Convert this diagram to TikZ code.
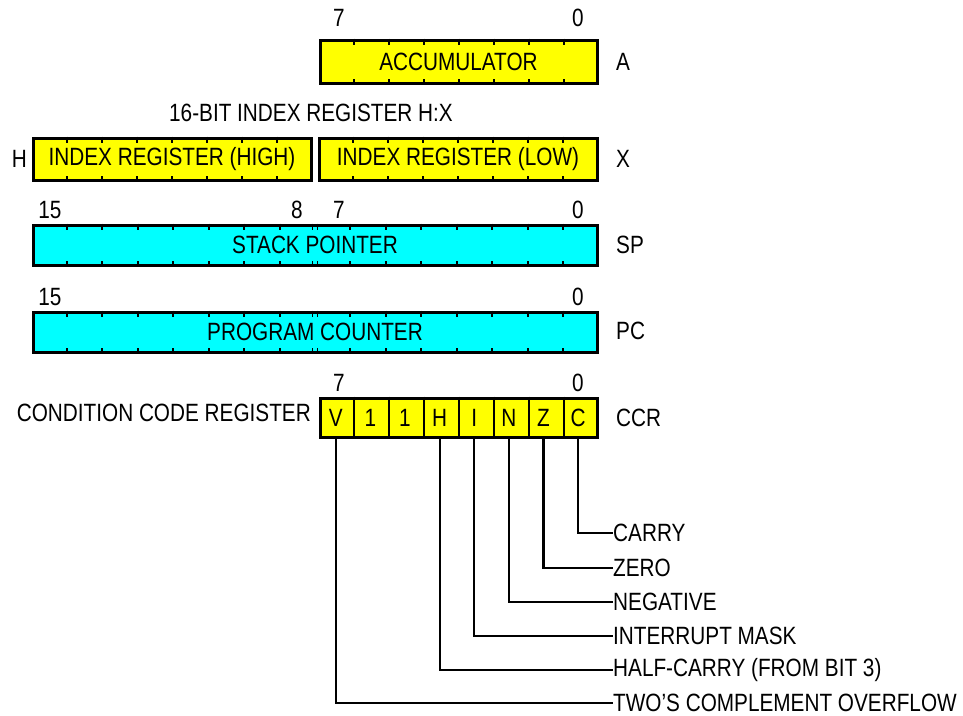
\documentclass[tikz,border=0pt]{standalone}
\usepackage{fontspec}
\setmainfont{Liberation Sans}[FakeStretch=0.83]
\usetikzlibrary{positioning,calc}

\definecolor{regyellow}{RGB}{255,255,0}
\definecolor{regcyan}{RGB}{0,255,255}

\tikzset{
  reg/.style={draw, line width=3pt, inner sep=0pt, font=\fontsize{25}{25}\selectfont},
  yreg/.style={reg, fill=regyellow},
  creg/.style={reg, fill=regcyan},
  tick/.style={line width=2pt},
  lbl/.style={font=\fontsize{25}{25}\selectfont, inner sep=0pt},
  lead/.style={line width=2.2pt}
}

\begin{document}
\begin{tikzpicture}[x=1pt,y=-1pt]
  \useasboundingbox (0,0) rectangle (963,715);
  % registers
  \node[yreg, minimum width=277pt, minimum height=43pt] (acc) at (458.5,61.5) {ACCUMULATOR};
  \node[yreg, minimum width=278pt, minimum height=42pt] (ixh) at (172,159) {INDEX REGISTER (HIGH)};
  \node[yreg, minimum width=278pt, minimum height=42pt] (ixl) at (458,159) {INDEX REGISTER (LOW)};
  \node[creg, minimum width=564pt, minimum height=40pt] (sp) at (315,245) {STACK POINTER};
  \node[creg, minimum width=564pt, minimum height=40pt] (pc) at (315,332) {PROGRAM COUNTER};
  \node[yreg, minimum width=277pt, minimum height=39pt] (ccr) at (458.5,417.5) {};

  % bit ticks
  \foreach \r in {acc,ixh,ixl}
    \foreach \i in {1,...,7} {
      \draw[tick] ($(\r.north west)!\i/8!(\r.north east)$) -- ++(0,6);
      \draw[tick] ($(\r.south west)!\i/8!(\r.south east)$) -- ++(0,-6);
    }
  \foreach \r in {sp,pc} {
    \foreach \i in {1,...,7,9,10,...,15} {
      \draw[tick] ($(\r.north west)!\i/16!(\r.north east)$) -- ++(0,6);
      \draw[tick] ($(\r.south west)!\i/16!(\r.south east)$) -- ++(0,-6);
    }
    \foreach \d in {-2.5,2.5} {
      \draw[line width=1.4pt] ($(\r.north)+(\d,0)$) -- ++(0,6);
      \draw[line width=1.4pt] ($(\r.south)+(\d,0)$) -- ++(0,-6);
    }
  }
  \foreach \i in {1,...,7}
    \draw[tick] ($(ccr.north west)!\i/8!(ccr.north east)$) -- ($(ccr.south west)!\i/8!(ccr.south east)$);

  % ccr bits
  \foreach \b [count=\i from 0] in {V,1,1,H,I,N,Z,C}
    \node[lbl] (b\i) at ($(ccr.west)+(17.3+34.6*\i,0)$) {\b};

  % bit numbers
  \node[lbl] (acc7) at (339,18) {7};
  \node[lbl] (acc0) at (578,18) {0};
  \node[lbl] (sp15) at (50,210) {15};
  \node[lbl] (sp8) at (297,210) {8};
  \node[lbl] (sp7) at (339,210) {7};
  \node[lbl] (sp0) at (578,210) {0};
  \node[lbl] (pc15) at (50,297) {15};
  \node[lbl] (pc0) at (578,297) {0};
  \node[lbl] (ccr7) at (339,383) {7};
  \node[lbl] (ccr0) at (578,383) {0};

  % register names
  \node[lbl, anchor=west] (nA) at (616,62) {A};
  \node[lbl, anchor=west] (nX) at (616,159) {X};
  \node[lbl, anchor=east] (nH) at (27,159) {H};
  \node[lbl, anchor=west] (nSP) at (616,245) {SP};
  \node[lbl, anchor=west] (nPC) at (616,331) {PC};
  \node[lbl, anchor=west] (nCCR) at (616,418) {CCR};
  \node[lbl] (hx) at (311,113) {16-BIT INDEX REGISTER H:X};
  \node[lbl, anchor=east] (ccrname) at (311,413) {CONDITION CODE REGISTER};

  % flags
  \node[lbl, anchor=west] (carry) at (613,533) {CARRY};
  \node[lbl, anchor=west] (zero) at (613,568) {ZERO};
  \node[lbl, anchor=west] (neg) at (613,602) {NEGATIVE};
  \node[lbl, anchor=west] (imask) at (613,636) {INTERRUPT MASK};
  \node[lbl, anchor=west] (hcarry) at (613,670) {HALF-CARRY (FROM BIT 3)};
  \node[lbl, anchor=west] (ovf) at (613,703) {TWO'S COMPLEMENT OVERFLOW};

  \draw[lead] (b7 |- ccr.south) |- (carry.west);
  \draw[lead] (b6 |- ccr.south) |- (zero.west);
  \draw[lead] (b5 |- ccr.south) |- (neg.west);
  \draw[lead] (b4 |- ccr.south) |- (imask.west);
  \draw[lead] (b3 |- ccr.south) |- (hcarry.west);
  \draw[lead] (b0 |- ccr.south) |- (ovf.west);
\end{tikzpicture}
\end{document}
